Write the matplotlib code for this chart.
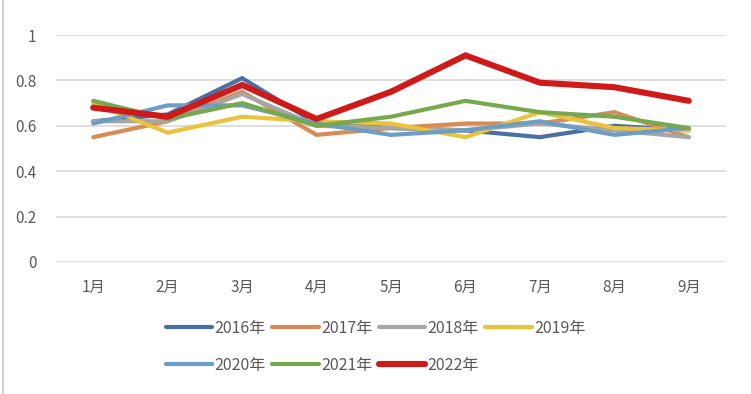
import matplotlib
matplotlib.use("Agg")
import matplotlib.pyplot as plt
from matplotlib.lines import Line2D

plt.rcParams['font.family'] = ['Noto Sans CJK SC', 'DejaVu Sans']

months = ['1月', '2月', '3月', '4月', '5月', '6月', '7月', '8月', '9月']
years = ['2016年', '2017年', '2018年', '2019年', '2020年', '2021年', '2022年']

y2016 = [0.62, 0.65, 0.81, 0.61, 0.59, 0.58, 0.55, 0.60, 0.58]
y2017 = [0.55, 0.62, 0.75, 0.56, 0.59, 0.61, 0.61, 0.66, 0.55]
y2018 = [0.62, 0.62, 0.74, 0.60, 0.59, 0.58, 0.61, 0.58, 0.55]
y2019 = [0.70, 0.57, 0.64, 0.62, 0.61, 0.55, 0.66, 0.59, 0.58]
y2020 = [0.61, 0.69, 0.69, 0.61, 0.56, 0.58, 0.62, 0.56, 0.59]
y2021 = [0.71, 0.63, 0.70, 0.60, 0.64, 0.71, 0.66, 0.64, 0.59]
y2022 = [0.68, 0.64, 0.78, 0.63, 0.75, 0.91, 0.79, 0.77, 0.71]

series = [y2016, y2017, y2018, y2019, y2020, y2021, y2022]
colors = ['#4a6fa5', '#d98b55', '#a6a6a6', '#ebc23a', '#6a9ec4', '#76a94f', '#d01a1a']
widths = [3.0, 3.0, 3.0, 3.0, 3.0, 3.0, 4.4]

fig = plt.figure(figsize=(7.51, 3.94), dpi=100)
ax = fig.add_axes([56 / 751, 132 / 394, 670 / 751, 227 / 394])

x = list(range(len(months)))
lines = []
for vals, c, w, lab in zip(series, colors, widths, years):
    ln, = ax.plot(x, vals, color=c, lw=w, label=lab, solid_capstyle='round',
                  solid_joinstyle='miter')
    lines.append(ln)

ax.set_xlim(-0.5, len(months) - 0.5)
ax.set_ylim(0, 1)
ax.set_yticks([0, 0.2, 0.4, 0.6, 0.8, 1])
ax.set_yticklabels(['0', '0.2', '0.4', '0.6', '0.8', '1'])
ax.set_xticks(x)
ax.set_xticklabels(months)
ax.grid(axis='y', color='#d9d9d9', lw=1.2)
ax.set_axisbelow(True)
for s in ax.spines.values():
    s.set_visible(False)
ax.tick_params(length=0, colors='#595959', labelsize=11)
ax.tick_params(axis='y', pad=14)
ax.tick_params(axis='x', pad=12)

# legend is filled column by column, so reorder to read row by row
order = [0, 4, 1, 5, 2, 6, 3]
leg = fig.legend([lines[i] for i in order], [years[i] for i in order],
                 loc='upper left', bbox_to_anchor=(166 / 751, 1 - 320 / 394), ncol=4,
                 frameon=False, fontsize=11.5, handlelength=2.9, handletextpad=0.15,
                 columnspacing=0.4, labelspacing=1.25, borderpad=0, borderaxespad=0)
for t in leg.get_texts():
    t.set_color('#595959')

fig.add_artist(Line2D([3 / 751, 3 / 751], [0, 1], color='#d0d0d0', lw=1.5))

fig.savefig('out.png', dpi=100)
